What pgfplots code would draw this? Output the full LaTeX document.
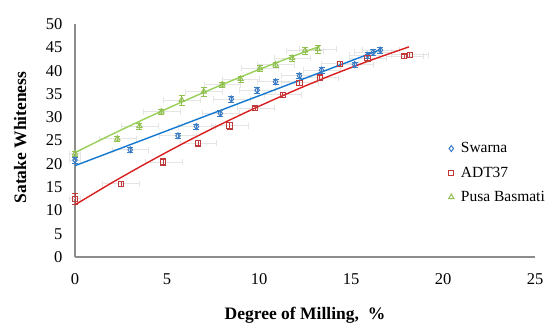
\documentclass[border=0pt]{standalone}
\usepackage{fontspec}
\setmainfont{Liberation Serif}
\usepackage{pgfplots}
\pgfplotsset{compat=1.18}
\definecolor{cblue}{HTML}{3B7CC4}
\definecolor{cred}{HTML}{C0393B}
\definecolor{cgreen}{HTML}{92C050}
\definecolor{lblue}{HTML}{1478D0}
\definecolor{lred}{HTML}{D81E1E}
\definecolor{lgreen}{HTML}{98D058}
\begin{document}
\begin{tikzpicture}
\path[use as bounding box] (-75bp,-70bp) rectangle (475bp,257bp);
\begin{axis}[
  at={(0,0)}, anchor=south west,
  scale only axis, width=460bp, height=233bp,
  xmin=0, xmax=25, ymin=0, ymax=50,
  xtick={0,5,...,25}, ytick={0,5,...,50},
  axis x line*=bottom, axis y line*=left,
  axis line style={draw=gray!90, line width=1.2bp},
  major tick length=0pt,
  /pgf/number format/assume math mode=true,
  tick label style={font=\fontsize{16.5bp}{19bp}\selectfont},
  xticklabel style={yshift=-13bp},
  yticklabel style={xshift=-9bp},
  xlabel={\textbf{Degree of Milling,\ \ \%}},
  ylabel={\textbf{Satake Whiteness}},
  label style={font=\fontsize{17.5bp}{20bp}\selectfont},
  xlabel style={at={(axis description cs:0.5,0)}, anchor=north, yshift=-47bp},
  ylabel style={at={(axis description cs:0,0.5)}, anchor=south, xshift=3bp, yshift=45bp},
  legend style={at={(0.812,0.50)}, anchor=north west, draw=none, fill=none,
    font=\fontsize{15.5bp}{19bp}\selectfont, row sep=8.5bp,
    inner xsep=0pt, inner ysep=0pt},
  legend cell align=left,
  legend image code/.code={\draw[#1] plot coordinates {(0.02cm,0cm)}; \path (0.28cm,0cm);},
  clip=false,
]
% horizontal error bars (light grey)
\addplot[draw=none, forget plot, error bars/.cd, x dir=both, x explicit,
  error bar style={draw=gray!20, line width=0.8bp}, error mark options={draw=gray!20, rotate=90, mark size=3bp}]
coordinates {
(0,20.8)+-(0.3,0) (3.0,23.0)+-(1.0,0) (5.6,26.0)+-(1.0,0) (6.6,28.0)+-(1.0,0) (7.9,30.8)+-(1.0,0)
(8.5,33.9)+-(1.0,0) (9.9,35.8)+-(1.0,0) (10.9,37.6)+-(1.0,0) (12.2,38.9)+-(1.0,0) (13.4,40.1)+-(1.0,0)
(15.2,41.3)+-(1.0,0) (15.9,43.3)+-(1.0,0) (16.2,43.9)+-(1.0,0) (16.6,44.4)+-(1.0,0)
(0,12.5)+-(0.3,0) (2.5,15.7)+-(1.0,0) (4.8,20.4)+-(1.0,0) (6.7,24.4)+-(1.0,0) (8.4,28.2)+-(1.0,0)
(9.8,31.9)+-(1.0,0) (11.3,34.8)+-(1.0,0) (12.2,37.4)+-(1.0,0) (13.3,38.5)+-(1.0,0) (14.4,41.5)+-(1.0,0)
(15.9,42.7)+-(1.0,0) (17.9,43.1)+-(1.0,0) (18.2,43.4)+-(1.0,0)
(0,22.2)+-(0.3,0) (2.3,25.4)+-(1.0,0) (3.5,28.1)+-(1.0,0) (4.7,31.2)+-(1.0,0) (5.8,33.7)+-(1.0,0)
(7.0,35.5)+-(1.0,0) (8.0,37.0)+-(1.0,0) (9.0,38.2)+-(1.0,0) (10.05,40.5)+-(1.0,0) (10.9,41.3)+-(1.0,0)
(11.8,42.7)+-(1.0,0) (12.5,44.3)+-(1.0,0) (13.2,44.6)+-(1.0,0)
};
% trend lines
\addplot[lblue, line width=1.4bp, forget plot, smooth] coordinates {
(0,19.6) (4,25.6) (8,31.6) (12,37.6) (16.6,44.5)};
\addplot[lred, line width=1.4bp, forget plot, smooth] coordinates {
(0,11.2) (2,15.92) (4,20.39) (6,24.62) (8,28.61) (10,32.35) (12,35.85) (14,39.11) (16,42.12) (18.15,45.09)};
\addplot[lgreen, line width=1.4bp, forget plot, smooth] coordinates {
(0,22.4) (2,26.30) (4,30.03) (6,33.60) (8,37.00) (10,40.23) (12,43.30) (13.3,45.20)};
% data
\addplot[only marks, mark=diamond, mark size=3bp, cblue, mark options={line width=1bp},
  error bars/.cd, y dir=both, y explicit, error bar style={cblue, line width=0.9bp}, error mark options={cblue, rotate=90, mark size=3bp}]
coordinates {
(0,20.8)+-(0,0.6) (3.0,23.0)+-(0,0.6) (5.6,26.0)+-(0,0.6) (6.6,28.0)+-(0,0.6) (7.9,30.8)+-(0,0.6)
(8.5,33.9)+-(0,0.6) (9.9,35.8)+-(0,0.6) (10.9,37.6)+-(0,0.6) (12.2,38.9)+-(0,0.6) (13.4,40.1)+-(0,0.6)
(15.2,41.3)+-(0,0.6) (15.9,43.3)+-(0,0.6) (16.2,43.9)+-(0,0.6) (16.6,44.4)+-(0,0.6)
};
\addlegendentry{Swarna}
\addplot[only marks, mark=square, mark size=2.6bp, cred, mark options={line width=1bp},
  error bars/.cd, y dir=both, y explicit, error bar style={cred, line width=0.9bp}, error mark options={cred, rotate=90, mark size=3bp}]
coordinates {
(0,12.5)+-(0,1.2) (2.5,15.7)+-(0,0.6) (4.8,20.4)+-(0,0.7) (6.7,24.4)+-(0,0.6) (8.4,28.2)+-(0,0.7)
(9.8,31.9)+-(0,0.5) (11.3,34.8)+-(0,0.6) (12.2,37.4)+-(0,0.6) (13.3,38.5)+-(0,0.6) (14.4,41.5)+-(0,0.6)
(15.9,42.7)+-(0,0.6) (17.9,43.1)+-(0,0.5) (18.2,43.4)+-(0,0.5)
};
\addlegendentry{ADT37}
\addplot[only marks, mark=triangle, mark size=3bp, cgreen, mark options={line width=1bp},
  error bars/.cd, y dir=both, y explicit, error bar style={cgreen, line width=0.9bp}, error mark options={cgreen, rotate=90, mark size=3bp}]
coordinates {
(0,22.2)+-(0,0.5) (2.3,25.4)+-(0,0.6) (3.5,28.1)+-(0,0.6) (4.7,31.2)+-(0,0.6) (5.8,33.7)+-(0,1.1)
(7.0,35.5)+-(0,1.0) (8.0,37.0)+-(0,0.6) (9.0,38.2)+-(0,0.6) (10.05,40.5)+-(0,0.6) (10.9,41.3)+-(0,0.6)
(11.8,42.7)+-(0,0.6) (12.5,44.3)+-(0,0.8) (13.2,44.6)+-(0,0.8)
};
\addlegendentry{Pusa Basmati}
\end{axis}
\end{tikzpicture}
\end{document}
